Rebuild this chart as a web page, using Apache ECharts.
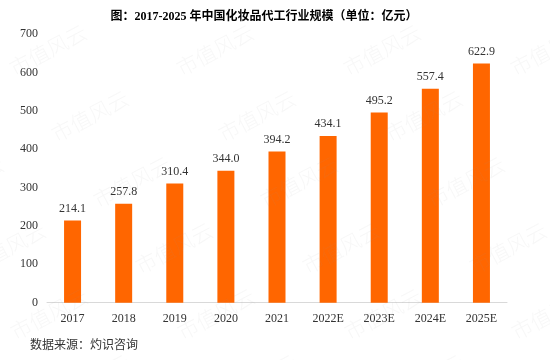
<!DOCTYPE html>
<html>
<head>
<meta charset="utf-8">
<script src="https://cdn.jsdelivr.net/npm/echarts@6/dist/echarts.min.js"></script>
<style>
html,body{margin:0;padding:0;background:#fff;}
#main{width:550px;height:360px;}
</style>
</head>
<body>
<div id="main"></div>
<script>
var titleText = '图：2017-2025 年中国化妆品代工行业规模（单位：亿元）';
var sourceText = '数据来源：灼识咨询';
var categories = ['2017','2018','2019','2020','2021','2022E','2023E','2024E','2025E'];
var values = [214.1, 257.8, 310.4, 344.0, 394.2, 434.1, 495.2, 557.4, 622.9];
var yTicks = [0,100,200,300,400,500,600,700];
var watermarkText = '市值风云';

var serif = "'Liberation Serif','Noto Sans CJK SC',serif";
var chart = echarts.init(document.getElementById('main'), null, {renderer:'canvas'});

var graphics = [
  {type:'text', left:30, top:340, z:10,
   style:{text:sourceText, font:"12px "+serif, fill:'#333'}}
];
for (var r = 0; r < 6; r++) {
  for (var k = -1; k < 4; k++) {
    var cx = 48 + r*42 + k*167;
    var cy = 50 + r*66;
    graphics.push({
      type:'text', x:cx, y:cy, rotation:28*Math.PI/180, z:100, silent:true,
      style:{text:watermarkText, font:"300 21px 'Noto Sans CJK SC'", fill:'rgba(150,150,150,0.08)',
             align:'center', verticalAlign:'middle'}
    });
  }
}

chart.setOption({
  animation:false,
  backgroundColor:'#fff',
  title:{
    text:titleText, left:259, top:6, textAlign:'center',
    textStyle:{fontFamily:serif, fontSize:12, fontWeight:'bold', color:'#000'}
  },
  grid:{left:47, right:43, top:34, bottom:57.3, containLabel:false},
  xAxis:{
    type:'category', data:categories,
    axisLine:{show:true, lineStyle:{color:'#d9d9d9', width:1}},
    axisTick:{show:false},
    axisLabel:{fontFamily:serif, fontSize:12, color:'#333', margin:10}
  },
  yAxis:{
    type:'value', min:yTicks[0], max:yTicks[yTicks.length-1], interval:100,
    axisLine:{show:false}, axisTick:{show:false}, splitLine:{show:false},
    axisLabel:{fontFamily:serif, fontSize:12, color:'#333', margin:9}
  },
  series:[{
    type:'bar', data:values, barWidth:17,
    itemStyle:{color:'#FF6600'},
    label:{show:true, position:'top', distance:6, fontFamily:serif, fontSize:12, color:'#333',
           formatter:function(p){return p.value.toFixed(1);}}
  }],
  graphic:graphics
});
</script>
</body>
</html>
